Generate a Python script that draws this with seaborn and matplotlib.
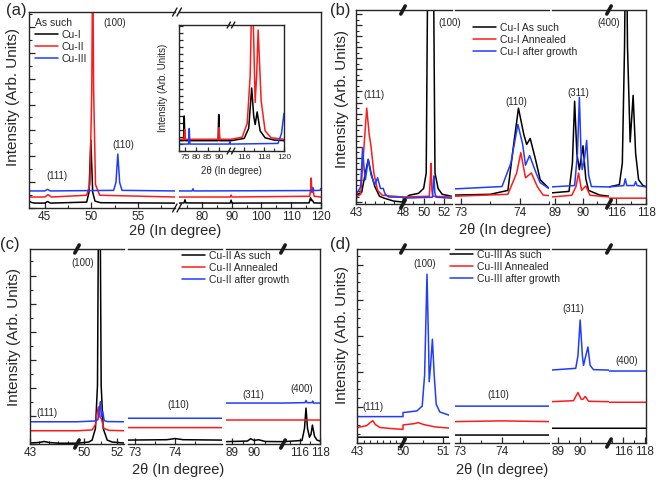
import matplotlib
matplotlib.use("Agg")
import matplotlib.pyplot as plt
import seaborn as sns
from matplotlib.lines import Line2D
from matplotlib.ticker import FixedLocator, MultipleLocator, AutoMinorLocator

# ---------------- data (arbitrary intensity units) ----------------
# (a) main: as-such films
a_cu1_x = [43.3, 43.6, 43.9, 45.0, 45.3, 45.6, 49.5, 49.75, 49.95, 50.15, 50.4, 51.0, 59.0,
           72.3, 74.0, 74.3, 74.6, 89.5, 89.8, 90.1, 116.0, 116.5, 116.8, 117.1, 117.6, 120.0]
a_cu1_y = [3.5, 2.8, 2.5, 2.5, 3.3, 2.5, 3.0, 8.0, 34.7, 8.0, 3.5, 2.7, 2.5,
           2.5, 2.6, 4.2, 2.6, 2.5, 4.0, 2.5, 2.6, 5.3, 3.8, 4.0, 2.6, 2.5]
a_cu2_x = [43.3, 45.0, 45.35, 45.7, 49.5, 49.85, 50.05, 50.15, 50.25, 50.45, 50.9, 59.0,
           72.3, 89.5, 89.8, 90.1, 116.2, 116.5, 116.7, 116.95, 117.3, 117.7, 120.0]
a_cu2_y = [5.6, 5.6, 6.8, 5.6, 6.5, 12, 60, 130, 60, 12, 6.5, 5.6,
           5.6, 5.6, 6.6, 5.6, 6.0, 9.0, 15.3, 8.0, 9.7, 6.0, 5.6]
a_cu3_x = [43.3, 45.0, 45.3, 45.6, 52.4, 52.65, 52.85, 53.05, 53.3, 59.0,
           72.3, 76.7, 77.0, 77.3, 117.0, 117.3, 117.6, 119.7, 120.0]
a_cu3_y = [8.7, 8.7, 9.5, 8.7, 9.0, 13, 27.5, 13, 9.0, 8.7,
           8.7, 8.7, 9.8, 8.7, 8.9, 10.5, 8.9, 9.0, 10.0]

# (a) inset
ins_cu1_x = [72.4, 74.4, 74.7, 75.0, 89.6, 89.9, 90.2, 95.3,
             114.67, 116.0, 116.45, 116.75, 116.95, 117.1, 117.3, 117.6, 118.1, 119.0, 120.0]
ins_cu1_y = [8.2, 8.2, 27.8, 8.2, 8.2, 29, 8.2, 8.2,
             8.2, 10, 18, 50, 28, 21, 31, 16, 10.5, 8.7, 8.2]
ins_cu2_x = [72.4, 74.6, 74.9, 75.2, 89.8, 90.1, 90.4, 95.3,
             114.67, 115.8, 116.3, 116.6, 116.8, 117.1, 117.25, 117.4, 117.7, 118.1, 118.7, 120.0]
ins_cu2_y = [9.3, 9.3, 17, 9.3, 9.3, 18.6, 9.3, 9.3,
             9.3, 11, 22, 60, 140, 38.6, 60, 96, 40, 16, 10.5, 9.3]
ins_cu3_x = [72.4, 76.6, 76.9, 77.2, 94.5, 94.8, 95.1, 95.3,
             114.67, 119.4, 119.75, 120.0]
ins_cu3_y = [5.5, 5.5, 17.8, 5.5, 5.5, 7.5, 5.5, 5.5,
             5.5, 6.0, 14, 30]

# (b) Cu-I
b_such_x = [43, 43.6, 44.0, 44.3, 44.6, 45.0, 45.5, 46, 47, 48,
            48, 48.6, 49.5, 50.0, 50.25, 50.45, 50.9, 51.1, 51.4, 51.8, 52.7,
            72.9, 73.5, 73.8, 73.9, 73.98, 74.07, 74.12, 74.18, 74.27, 74.35, 74.5,
            88.85, 89.5, 89.62, 89.7, 89.78, 89.87, 90.0, 90.1, 90.2, 90.6, 90.95,
            115.5, 116.2, 116.4, 116.55, 116.65, 116.75, 116.93, 117.13, 117.3, 117.5, 117.8, 118]
b_such_y = [3.5, 5, 15, 22, 15, 8, 3, 2, 0.5, 0,
            1.0, 3.5, 4.5, 7, 15, 160, 160, 15, 7, 4, 3,
            3.6, 4, 6, 30, 48.4, 35, 29.7, 32.8, 22, 11.5, 7,
            4.7, 5.5, 20, 52, 25, 16.7, 29, 12, 6, 3.6, 3,
            7.8, 9, 20, 80, 160, 80, 31, 55, 25, 11.5, 8.5, 8]
b_ann_x = [43, 43.5, 43.8, 44.14, 44.4, 44.6, 44.9, 45.3, 45.8, 48,
           48, 50.55, 50.65, 50.72, 50.8, 50.9, 52.7,
           72.9, 73.8, 73.95, 74.02, 74.1, 74.2, 74.3, 74.4, 74.5,
           88.85, 89.6, 89.75, 89.84, 89.95, 90.1, 90.25, 90.95,
           115.5, 118]
b_ann_y = [2.6, 4, 25, 48.4, 35, 28.6, 15, 6, 3.5, 2.6,
           2.6, 3, 12, 20, 6, 3, 2.6,
           3, 4, 15, 25.5, 12.5, 15, 8, 3.6, 3.3,
           2.6, 3.5, 8, 15, 6, 8.3, 3.5, 2.6,
           2.0, 2.0]
b_grow_x = [43, 43.5, 43.7, 43.85, 44.0, 44.3, 44.6, 45.0, 45.3, 45.6, 45.9, 46.1, 46.5, 48,
            48, 50.85, 50.93, 51.0, 51.08, 51.2, 52.7,
            72.9, 73.7, 73.85, 73.97, 74.05, 74.1, 74.17, 74.28, 74.35, 74.5,
            88.85, 89.7, 89.8, 89.87, 89.93, 89.97, 90.05, 90.13, 90.2, 90.3, 90.95,
            115.5, 116.5, 116.6, 116.7, 117.2, 117.3, 117.4, 118]
b_grow_y = [3.5, 8, 28, 18, 11.5, 22, 14, 9, 12.5, 7, 7, 4, 2.6, 2.5,
            2.0, 2.5, 9, 13.5, 5, 2.5, 2.0,
            6.8, 8, 20, 40, 30, 19, 24, 15, 10, 7,
            7.8, 8.5, 25, 54, 25, 16.7, 22, 31.8, 14, 8, 7.8,
            7.8, 8.5, 12, 8.5, 8.5, 10.5, 8.5, 7.8]

# (c) Cu-II
c_such_x = [43, 44.0, 44.5, 45.0, 46, 48,
            49.6, 50.3, 50.5, 50.7, 50.82, 50.9, 50.96, 51.04, 51.16, 51.4, 51.7, 52.4,
            72.8, 73.8, 74.0, 74.2, 75.2,
            88.7, 89.7, 89.85, 90.0, 90.2, 90.5, 91.3,
            114.3, 116.2, 116.45, 116.6, 116.75, 116.95, 117.1, 117.24, 117.45, 117.7, 118]
c_such_y = [0.5, 0.8, 1.3, 0.8, 0.4, 0.4,
            0.4, 1, 2, 8, 30, 150, 150, 30, 8, 2, 1, 0.5,
            2, 2.2, 2.8, 2.2, 2,
            1.2, 1.5, 2.7, 1.8, 2.2, 1.3, 1.2,
            1.2, 1.8, 8, 18.4, 8, 3.5, 5, 9.7, 4, 2, 1.5]
c_ann_x = [43, 48,
           49.6, 50.5, 50.7, 50.8, 50.87, 50.95, 51.05, 51.2, 51.5, 52.4,
           72.8, 75.2, 88.7, 91.3, 114.3, 118]
c_ann_y = [6.8, 6.8,
           6.8, 7.2, 10, 16, 19, 14, 13, 8, 7, 6.8,
           8.4, 8.4, 12.3, 12.3, 12.3, 12.3]
c_grow_x = [43, 48,
            49.6, 50.7, 50.85, 50.99, 51.05, 51.13, 51.22, 51.4, 52.4,
            72.8, 75.2, 88.7, 91.3,
            114.3, 116.5, 116.6, 116.7, 117.2, 117.27, 117.35, 118]
c_grow_y = [11.4, 11.4,
            11.4, 11.8, 12.5, 21.7, 14, 16.6, 12, 11.5, 11.4,
            13.2, 13.2, 21, 21,
            21, 21.2, 22.3, 21.2, 21.2, 22, 21, 21]

# (d) Cu-III
d_such_x = [43, 50, 50, 51.2, 72.8, 75.2, 88.7, 91.3, 114.7, 118.2]
d_such_y = [3, 3, 3, 3, 4.1, 4.1, 7.6, 7.6, 7.6, 7.6]
d_ann_x = [43, 44.5, 45.0, 45.4, 45.8, 46.5, 48, 50,
           50, 50.29, 50.38, 50.52, 50.8, 51.2,
           72.8, 74, 75.2,
           88.7, 89.7, 89.8, 89.9, 90.05, 90.12, 90.23, 90.38, 91.3,
           114.7, 118.2]
d_ann_y = [7.9, 9, 10.5, 11.5, 9.5, 8, 7.5, 7,
           9.3, 10, 10.5, 9.5, 8.3, 7.6,
           11, 11.4, 11,
           21.3, 21.8, 24, 26, 22.5, 22.5, 24, 21.5, 21.3,
           21, 21]
d_grow_x = [43, 50,
            50, 50.345, 50.48, 50.54, 50.6, 50.64, 50.655, 50.69, 50.735, 50.78, 50.83, 50.92, 51.2,
            72.8, 75.2,
            88.7, 89.8, 89.9, 90.0, 90.1, 90.15, 90.35, 90.45, 90.6, 91.3,
            114.7, 118.2]
d_grow_y = [13.6, 13.6,
            15.7, 16.5, 19, 35, 87, 50, 31.6, 40, 53.5, 35, 20, 16, 14,
            19, 19,
            37.6, 38.5, 45, 63.4, 45, 40, 49.5, 40, 37.8, 37.6,
            37.1, 37.1]

BLACK, RED, BLUE = "#000000", "#ff1a1a", "#1f3cff"

# ---------------- figure ----------------
sns.set_theme(style="ticks")
plt.rcParams["font.family"] = ["Liberation Sans", "DejaVu Sans"]
plt.rcParams["axes.linewidth"] = 1.0

W, H = 661, 480
fig = plt.figure(figsize=(W / 100, H / 100), dpi=100)
fig.patch.set_facecolor("white")


def px(x, y):
    return x / W, 1 - y / H


def segmented(segs, top, bottom, face="none"):
    axes = []
    for x0, x1, *_ in segs:
        ax = fig.add_axes([x0 / W, 1 - bottom / H, (x1 - x0) / W, (bottom - top) / H])
        ax.set_facecolor(face)
        axes.append(ax)
    return axes


def finish(axes, segs, ylim, ymajor, yminor, tsize=8.5):
    n = len(axes)
    for i, (ax, s) in enumerate(zip(axes, segs)):
        lo, hi, major, minor = s[2], s[3], s[4], s[5]
        ax.set_xlim(lo, hi)
        ax.set_ylim(*ylim)
        ax.set_xlabel("")
        ax.set_ylabel("")
        ax.xaxis.set_major_locator(FixedLocator(major))
        ax.xaxis.set_minor_locator(FixedLocator(minor))
        ax.set_xticklabels([f"{m:g}" for m in major])
        for side in ("top", "bottom"):
            ax.spines[side].set_visible(True)
        ax.spines["left"].set_visible(i == 0)
        ax.spines["right"].set_visible(i == n - 1)
        ax.tick_params(axis="x", which="major", direction="in", length=4, width=0.9,
                       labelsize=tsize, pad=2.5, top=False)
        ax.tick_params(axis="x", which="minor", direction="in", length=2, width=0.8, top=False)
        if i == 0:
            ax.yaxis.set_major_locator(MultipleLocator(ymajor))
            ax.yaxis.set_minor_locator(AutoMinorLocator(yminor) if yminor > 1 else FixedLocator([]))
            ax.tick_params(axis="y", which="major", direction="in", length=4, width=0.9, labelleft=False)
            ax.tick_params(axis="y", which="minor", direction="in", length=2, width=0.8)
        else:
            ax.tick_params(axis="y", which="both", left=False, right=False, labelleft=False)


def draw(axes, series):
    for ax in axes:
        for xs, ys, c in series:
            sns.lineplot(x=xs, y=ys, ax=ax, color=c, linewidth=1.1, sort=False,
                         estimator=None, legend=False)


def slash(xp, yp, double=False, size=4):
    offs = [-2.2, 2.2] if double else [0]
    for o in offs:
        fx = [(xp + o - size * 0.55) / W, (xp + o + size * 0.55) / W]
        fy = [1 - (yp + size) / H, 1 - (yp - size) / H]
        fig.add_artist(Line2D(fx, fy, color="k", lw=1.0 if double else 2.6,
                              transform=fig.transFigure, clip_on=False))


def legend(labels, x, y, title=None, size=7.5):
    handles = [Line2D([], [], color=c, lw=1.1) for c in (BLACK, RED, BLUE)]
    fig.legend(handles, labels, loc="upper left", bbox_to_anchor=px(x, y),
               bbox_transform=fig.transFigure, frameon=False, fontsize=size,
               handlelength=2.2, handletextpad=0.35, labelspacing=0.18,
               borderpad=0, borderaxespad=0, title=title, title_fontsize=size,
               alignment="left")


def text(x, y, s, size=7, **kw):
    fig.text(*px(x, y), s, fontsize=size, ha=kw.pop("ha", "center"), va=kw.pop("va", "center"), **kw)


YLAB = "Intensity (Arb. Units)"
XLAB = "2\u03b8 (In degree)"

# ---------- panel (a) ----------
segs_a = [(29, 175, 43.3, 59.0, [45, 50, 55], [47.5, 52.5, 57.5]),
          (179, 321, 72.3, 120, [80, 90, 100, 110, 120], [75, 85, 95, 105, 115])]
ax_a = segmented(segs_a, 12, 208)
draw(ax_a, [(a_cu1_x, a_cu1_y, BLACK), (a_cu2_x, a_cu2_y, RED), (a_cu3_x, a_cu3_y, BLUE)])
finish(ax_a, segs_a, (0, 100), 13.2, 2)
slash(177, 12, double=True)
slash(177, 208, double=True)
legend(["Cu-I", "Cu-II", "Cu-III"], 35, 18, title="As such")
text(57, 176, "(111)")
text(115, 23, "(100)")
text(123, 145, "(110)")

segs_i = [(179, 231, 72.4, 95.3, [75, 80, 85, 90], []),
          (231, 284, 114.67, 120, [116, 118, 120], [117, 119])]
ax_i = segmented(segs_i, 25, 151, face="white")
draw(ax_i, [(ins_cu1_x, ins_cu1_y, BLACK), (ins_cu2_x, ins_cu2_y, RED), (ins_cu3_x, ins_cu3_y, BLUE)])
finish(ax_i, segs_i, (0, 100), 5.5, 1, tsize=6)
for ax in ax_i:
    ax.tick_params(axis="x", which="major", length=3, pad=2)
    ax.tick_params(axis="y", which="major", length=3)
slash(231, 25, double=True, size=3)
slash(231, 151, double=True, size=3)
text(231, 171, XLAB, size=7)
text(163, 88, YLAB, size=7, rotation=90)

# ---------- panel (b) ----------
segs_b = [(356, 403, 43, 48, [43, 48], [44, 45, 46, 47]),
          (403, 451.5, 48, 52.7, [50, 52], [49, 51]),
          (455, 549, 72.9, 74.5, [73, 74], [73.5, 74.5]),
          (552, 609, 88.89, 90.93, [89, 90], [89.5, 90.5]),
          (609, 646, 115.5, 118, [116, 118], [117])]
ax_b = segmented(segs_b, 10, 204)
draw(ax_b, [(b_such_x, b_such_y, BLACK), (b_ann_x, b_ann_y, RED), (b_grow_x, b_grow_y, BLUE)])
finish(ax_b, segs_b, (-1, 99), 5.7, 2)
for xb in (403, 609):
    slash(xb, 10)
    slash(xb, 204)
legend(["Cu-I As such", "Cu-I Annealed", "Cu-I after growth"], 473, 23)
text(374, 95, "(111)")
text(450, 23, "(100)")
text(516, 102, "(110)")
text(578, 93, "(311)")
text(609, 23, "(400)")

# ---------- panel (c) ----------
segs_c = [(30, 77, 43, 48, [43], [44, 45, 46, 47]),
          (77, 124, 49.6, 52.4, [50, 52], [51]),
          (128, 222, 72.83, 75.17, [73, 74], [73.5, 74.5]),
          (226, 283, 88.74, 91.3, [89, 90], [89.5, 90.5]),
          (283, 320, 114.3, 118, [116, 118], [115, 117])]
ax_c = segmented(segs_c, 249, 444)
draw(ax_c, [(c_such_x, c_such_y, BLACK), (c_ann_x, c_ann_y, RED), (c_grow_x, c_grow_y, BLUE)])
finish(ax_c, segs_c, (0, 100), 14.4, 2)
for xb in (77, 283):
    slash(xb, 249)
    slash(xb, 444)
legend(["Cu-II As such", "Cu-II Annealed", "Cu-II after growth"], 182, 251)
text(47, 413, "(111)")
text(83, 263, "(100)")
text(178, 405, "(110)")
text(253, 395, "(311)")
text(302, 389, "(400)")

# ---------- panel (d) ----------
segs_d = [(357, 403, 43, 50, [43, 50], [44, 45, 46, 47, 48, 49]),
          (403, 449, 50, 51.15, [51], [50.5]),
          (455, 549, 72.88, 75.12, [73, 74], [73.5, 74.5]),
          (552, 609, 88.73, 91.3, [89, 90], [89.5, 90.5]),
          (609, 646, 114.7, 118.1, [116, 118], [115, 117])]
ax_d = segmented(segs_d, 249, 443)
draw(ax_d, [(d_such_x, d_such_y, BLACK), (d_ann_x, d_ann_y, RED), (d_grow_x, d_grow_y, BLUE)])
finish(ax_d, segs_d, (0, 100), 18.4, 4)
for xb in (403, 609):
    slash(xb, 249)
    slash(xb, 443)
legend(["Cu-III As such", "Cu-III Annealed", "Cu-III after growth"], 450, 250)
text(373, 407, "(111)")
text(425, 264, "(100)")
text(498, 395, "(110)")
text(573, 309, "(311)")
text(627, 361, "(400)")

# ---------- shared labels ----------
for (xl, yl), (yx, yy) in [((175, 231), (13, 97)), ((505, 230), (342, 99)),
                           ((178, 470), (14, 337)), ((502, 470), (342, 335))]:
    text(xl, yl, XLAB, size=10.5)
    text(yx, yy, YLAB, size=11, rotation=90)

text(6, 11, "(a)", size=12, ha="left")
text(330, 11, "(b)", size=12, ha="left")
text(0, 245, "(c)", size=12, ha="left")
text(330, 245, "(d)", size=12, ha="left")

fig.savefig("out.png", dpi=100)
